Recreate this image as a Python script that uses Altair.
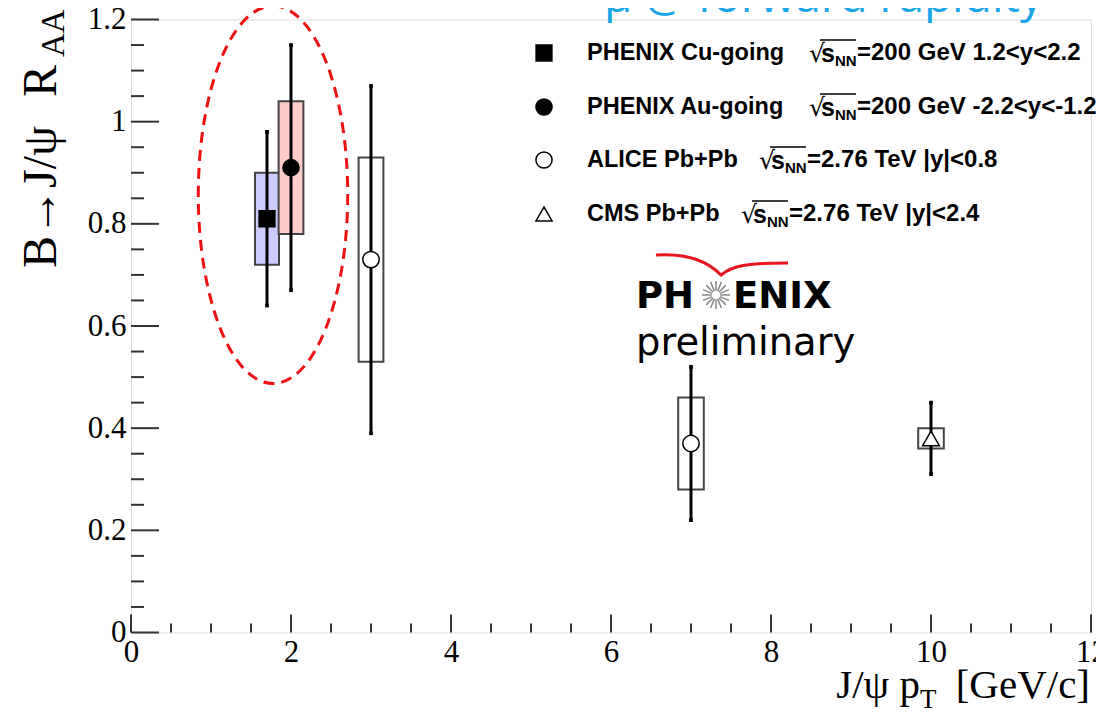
import math
import altair as alt
import pandas as pd

# ---------------- data ----------------
series = ["PHENIX Cu-going", "PHENIX Au-going", "ALICE Pb+Pb", "ALICE Pb+Pb", "CMS Pb+Pb"]
pt = [1.7, 2.0, 3.0, 7.0, 10.0]
raa = [0.81, 0.91, 0.73, 0.37, 0.38]
stat_lo = [0.64, 0.67, 0.39, 0.22, 0.31]
stat_hi = [0.98, 1.15, 1.07, 0.52, 0.45]
sys_lo = [0.72, 0.78, 0.53, 0.28, 0.36]
sys_hi = [0.90, 1.04, 0.93, 0.46, 0.40]
sys_dx = [0.15, 0.155, 0.155, 0.16, 0.16]

legend_names = ["PHENIX Cu-going", "PHENIX Au-going", "ALICE Pb+Pb", "CMS Pb+Pb"]
legend_rest = ["=200 GeV 1.2<y<2.2", "=200 GeV -2.2<y<-1.2",
               "=2.76 TeV |y|<0.8", "=2.76 TeV |y|<2.4"]

x_tick_values = [0, 2, 4, 6, 8, 10, 12]
y_tick_values = [0, 0.2, 0.4, 0.6, 0.8, 1.0, 1.2]

# ellipse annotation centre (data coords)
ell_x, ell_y = [1.775], [0.857]

# ---------------- layout ----------------
W, H = 960, 613
PX0, PY0 = 131, 19.5  # page position of plot origin


def px(v):
    return v - PX0


def py(v):
    return v - PY0


xs = alt.Scale(domain=[0, 12], nice=False, zero=False)
ys = alt.Scale(domain=[0, 1.2], nice=False, zero=False)

df = pd.DataFrame(dict(series=series, pt=pt, raa=raa, stat_lo=stat_lo, stat_hi=stat_hi,
                       sys_lo=sys_lo, sys_hi=sys_hi, sys_dx=sys_dx))
df["box_lo"] = df["pt"] - df["sys_dx"]
df["box_hi"] = df["pt"] + df["sys_dx"]

names = ["PHENIX Cu-going", "PHENIX Au-going", "ALICE Pb+Pb", "CMS Pb+Pb"]

x_axis = alt.Axis(values=x_tick_values, format="~g", labelFont="Liberation Serif",
                  labelFontSize=31, labelColor="black", ticks=False, domain=False,
                  grid=False, labelPadding=5, labelFlush=False, labelOverlap=False,
                  title=None)
y_axis = alt.Axis(values=y_tick_values, format="~g", labelFont="Liberation Serif",
                  labelFontSize=31, labelColor="black", ticks=False, domain=False,
                  grid=False, labelPadding=5, labelFlush=False, labelOverlap=False,
                  title=None)


def X(field):
    return alt.X(field, scale=xs, axis=x_axis)


def Y(field):
    return alt.Y(field, scale=ys, axis=y_axis)


boxes = alt.Chart(df).mark_rect(stroke="#444", strokeWidth=2, opacity=1).encode(
    x=X("box_lo:Q"), x2="box_hi:Q",
    y=Y("sys_lo:Q"), y2="sys_hi:Q",
    fill=alt.Fill("series:N", scale=alt.Scale(domain=names,
                  range=["#ccccff", "#ffcccc", "#ffffff", "#ffffff"]), legend=None),
)

bars = alt.Chart(df).mark_rule(color="black", strokeWidth=3).encode(
    x=X("pt:Q"), y=Y("stat_lo:Q"), y2="stat_hi:Q",
)

caps = alt.Chart(df).transform_fold(["stat_lo", "stat_hi"], as_=["k", "v"]).mark_square(
    size=14, color="black", opacity=1).encode(x=X("pt:Q"), y=Y("v:Q"))

markers = alt.Chart(df).mark_point(filled=True, stroke="black", strokeWidth=1.5, opacity=1).encode(
    x=X("pt:Q"), y=Y("raa:Q"),
    shape=alt.Shape("series:N", scale=alt.Scale(domain=names,
                    range=["square", "circle", "circle", "triangle-up"]), legend=None),
    fill=alt.Fill("series:N", scale=alt.Scale(domain=names,
                  range=["black", "black", "white", "white"]), legend=None),
    size=alt.Size("series:N", scale=alt.Scale(domain=names,
                  range=[250, 280, 300, 240]), legend=None),
)

data_layer = alt.layer(boxes, bars, caps, markers).resolve_scale(fill="independent")

# ---- ROOT style inside ticks ----
x_major = pd.DataFrame({"v": x_tick_values})
x_minor = pd.DataFrame({"v": [i * 0.5 for i in range(25) if i % 4 != 0]})
y_major = pd.DataFrame({"v": y_tick_values})
y_minor = pd.DataFrame({"v": [round(i * 0.05, 2) for i in range(25) if i % 4 != 0]})

tick_col = "#333"
xt1 = alt.Chart(x_major).mark_rule(color=tick_col, strokeWidth=2).encode(
    x=X("v:Q"), y=alt.value(H), y2=alt.value(H - 18))
xt2 = alt.Chart(x_minor).mark_rule(color=tick_col, strokeWidth=2).encode(
    x=X("v:Q"), y=alt.value(H), y2=alt.value(H - 9))
yt1 = alt.Chart(y_major).mark_rule(color=tick_col, strokeWidth=2).encode(
    y=Y("v:Q"), x=alt.value(0), x2=alt.value(28))
yt2 = alt.Chart(y_minor).mark_rule(color=tick_col, strokeWidth=2).encode(
    y=Y("v:Q"), x=alt.value(0), x2=alt.value(13))

# ---- red dashed ellipse (custom symbol path, bezier ellipse) ----
a = 0.3957
k = 0.5523
ell_path = (f"M 0 -1 C {a*k:.4f} -1 {a} -{k} {a} 0 C {a} {k} {a*k:.4f} 1 0 1 "
            f"C -{a*k:.4f} 1 -{a} {k} -{a} 0 C -{a} -{k} -{a*k:.4f} -1 0 -1 Z")
ellipse = alt.Chart(pd.DataFrame({"x": ell_x, "y": ell_y})).mark_point(
    shape=ell_path, size=377.6 ** 2, filled=False, stroke="#ee1111", strokeWidth=3,
    strokeDash=[11, 7], opacity=1).encode(x=X("x:Q"), y=Y("y:Q"))


def txt(s, x, y, size, font="Liberation Sans", weight="normal", align="left",
        baseline="alphabetic", angle=0, color="black"):
    return alt.Chart(pd.DataFrame({"t": [s]})).mark_text(
        align=align, baseline=baseline, font=font, fontSize=size, fontWeight=weight,
        color=color, angle=angle).encode(
        text="t:N", x=alt.value(px(x)), y=alt.value(py(y)))


def one(shape, x, y, size, fill, stroke="black", sw=1.5):
    return alt.Chart(pd.DataFrame({"d": [0]})).mark_point(
        shape=shape, size=size, filled=True, fill=fill, stroke=stroke,
        strokeWidth=sw, opacity=1).encode(x=alt.value(px(x)), y=alt.value(py(y)))


def hline(x1, x2, y, color="black", sw=1.5):
    return alt.Chart(pd.DataFrame({"d": [0]})).mark_rule(color=color, strokeWidth=sw).encode(
        x=alt.value(px(x1)), x2=alt.value(px(x2)), y=alt.value(py(y)))


# ---- legend ----
rows_y = [53, 107, 160, 214]
rad_x = [810, 810, 760, 742]
leg_shapes = [("square", "black", 250), ("circle", "black", 260),
              ("circle", "white", 260), ("triangle-up", "white", 260)]
legend_layers = []
for i in range(4):
    cy = rows_y[i]
    shp, fil, sz = leg_shapes[i]
    legend_layers.append(one(shp, 544, cy, sz, fil))
    legend_layers.append(txt(legend_names[i], 587, cy, 23.5, weight="bold", baseline="middle"))
    rx = rad_x[i]
    legend_layers.append(txt("\u221a", rx - 1, cy + 1, 25, font="DejaVu Sans", baseline="middle"))
    legend_layers.append(hline(rx + 10, rx + 46, cy - 13, sw=1.3))
    legend_layers.append(txt("s", rx + 11, cy + 1, 25, weight="bold", baseline="middle"))
    legend_layers.append(txt("NN", rx + 25, cy + 8, 15, weight="bold", baseline="middle"))
    legend_layers.append(txt(legend_rest[i], rx + 47, cy, 24, weight="bold", baseline="middle"))

# ---- PHENIX preliminary logo ----
logo_layers = [
    txt("PH", 636, 308, 37, font="DejaVu Sans", weight="bold"),
    txt("ENIX", 733, 308, 37, font="DejaVu Sans", weight="bold"),
]
spokes = []
for j in range(16):
    t = j * math.pi / 8
    spokes.append(f"M {0.3*math.cos(t):.3f} {0.3*math.sin(t):.3f} "
                  f"L {math.cos(t):.3f} {math.sin(t):.3f}")
star_path = " ".join(spokes)
logo_layers.append(alt.Chart(pd.DataFrame({"d": [0]})).mark_point(
    shape=star_path, size=28 ** 2, filled=False, stroke="#888", strokeWidth=1.5, opacity=1).encode(
    x=alt.value(px(716)), y=alt.value(py(295))))
swoosh = ("M -0.943 -0.143 C -0.5 -0.17 -0.2 -0.05 -0.014 0.143 "
          "C 0.15 0.0 0.4 -0.03 0.943 -0.029")
logo_layers.append(alt.Chart(pd.DataFrame({"d": [0]})).mark_point(
    shape=swoosh, size=140 ** 2, filled=False, stroke="#e8141e", strokeWidth=3, opacity=1).encode(
    x=alt.value(px(722)), y=alt.value(py(265))))
logo_layers.append(txt("preliminary", 636, 355, 38.5, font="DejaVu Sans"))

# ---- axis titles ----
title_layers = [
    txt("B\u2192J/\u03c8", 56, 268, 48, font="Liberation Serif", angle=270),
    txt("R", 56, 97, 48, font="Liberation Serif", angle=270),
    txt("AA", 64, 57, 33, font="Liberation Serif", angle=270),
    txt("J/\u03c8 p", 920, 698, 41, font="Liberation Serif", align="right"),
    txt("T", 920, 708, 27, font="Liberation Serif"),
    txt("[GeV/c]", 1090, 698, 41, font="Liberation Serif", align="right"),
    txt("\u03bc @ forward rapidity", 604, 12, 46, font="Open Sans", color="#19a6e8"),
]

chart = alt.layer(
    data_layer, xt1, xt2, yt1, yt2, ellipse,
    *legend_layers, *logo_layers, *title_layers,
).resolve_scale(fill="independent").properties(
    width=W, height=H,
    autosize=alt.AutoSizeParams(type="none"),
    padding={"left": 123, "top": 11.5, "right": 5, "bottom": 80},
).configure_view(stroke="#333", strokeWidth=2).configure(background="white")

chart.save("out.html", embed_options={"renderer": "svg", "actions": False})
